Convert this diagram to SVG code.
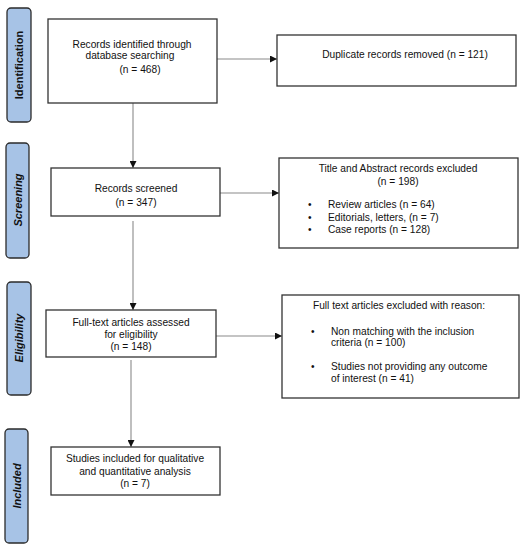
<svg xmlns="http://www.w3.org/2000/svg" width="525" height="550" viewBox="0 0 525 550">
<style>
.box{fill:#fff;stroke:#333;stroke-width:1.3}
.pill{fill:#a7c3e6;stroke:#2b2b2b;stroke-width:1.3}
.t{font-family:"Liberation Sans",Arial,sans-serif;font-size:10.2px;fill:#111}
.c{text-anchor:middle}
.p{font-family:"Liberation Sans",Arial,sans-serif;font-size:11px;font-weight:bold;fill:#111;text-anchor:middle}
.i{font-style:italic}
.ln{stroke:#8a8a8a;stroke-width:1.1;fill:none}
</style>
<defs>
<marker id="ah" viewBox="0 0 10 10" refX="10" refY="5" markerWidth="7" markerHeight="7" markerUnits="userSpaceOnUse" orient="auto">
<path d="M0,0 L10,5 L0,10 z" fill="#111"/>
</marker>
</defs>
<rect width="525" height="550" fill="#fff"/>
<g id="phase-identification">
<rect class="pill" x="7" y="8" width="24" height="114" rx="4"/>
<text class="p" transform="translate(23,65) rotate(-90)">Identification</text>
</g>
<g id="phase-screening">
<rect class="pill" x="6" y="143" width="23" height="115" rx="4"/>
<text class="p i" transform="translate(21.5,200) rotate(-90)">Screening</text>
</g>
<g id="phase-eligibility">
<rect class="pill" x="7" y="282" width="24" height="113" rx="4"/>
<text class="p i" transform="translate(23,338) rotate(-90)">Eligibility</text>
</g>
<g id="phase-included">
<rect class="pill" x="5" y="429" width="23" height="114" rx="4"/>
<text class="p i" transform="translate(20.5,486) rotate(-90)">Included</text>
</g>
<g id="connectors">
<line class="ln" x1="133" y1="103" x2="133" y2="168" marker-end="url(#ah)"/>
<line class="ln" x1="217" y1="59" x2="277" y2="59" marker-end="url(#ah)"/>
<line class="ln" x1="133" y1="221" x2="133" y2="310" marker-end="url(#ah)"/>
<line class="ln" x1="220" y1="193" x2="279" y2="193" marker-end="url(#ah)"/>
<line class="ln" x1="131" y1="360" x2="131" y2="447" marker-end="url(#ah)"/>
<line class="ln" x1="216" y1="336" x2="282" y2="336" marker-end="url(#ah)"/>
</g>
<g id="identified">
<rect class="box" x="48" y="19" width="169" height="84"/>
<text class="t c" x="132" y="47.5">Records identified through</text>
<text class="t c" x="130" y="59">database searching</text>
<text class="t c" x="140" y="73">(n = 468)</text>
</g>
<g id="duplicates">
<rect class="box" x="277" y="35" width="239" height="51"/>
<text class="t c" x="405" y="57.5">Duplicate records removed (n = 121)</text>
</g>
<g id="screened">
<rect class="box" x="51" y="168" width="169" height="48"/>
<text class="t c" x="136" y="192">Records screened</text>
<text class="t c" x="136" y="205.5">(n = 347)</text>
</g>
<g id="excluded-screening">
<rect class="box" x="279" y="158" width="239" height="90"/>
<text class="t c" x="398" y="172">Title and Abstract records excluded</text>
<text class="t c" x="398" y="184.5">(n = 198)</text>
<text class="t" x="308" y="208">•</text>
<text class="t" x="328" y="208">Review articles (n = 64)</text>
<text class="t" x="308" y="221">•</text>
<text class="t" x="328" y="221">Editorials, letters, (n = 7)</text>
<text class="t" x="308" y="233">•</text>
<text class="t" x="328" y="233">Case reports (n = 128)</text>
</g>
<g id="eligibility">
<rect class="box" x="46" y="310" width="170" height="47"/>
<text class="t c" x="131" y="326">Full-text articles assessed</text>
<text class="t c" x="131" y="338">for eligibility</text>
<text class="t c" x="131" y="350">(n = 148)</text>
</g>
<g id="excluded-fulltext">
<rect class="box" x="282" y="295" width="237" height="103"/>
<text class="t c" x="399" y="309">Full text articles excluded with reason:</text>
<text class="t" x="311" y="335">•</text>
<text class="t" x="331" y="335">Non matching with the inclusion</text>
<text class="t" x="331" y="346">criteria (n = 100)</text>
<text class="t" x="311" y="370">•</text>
<text class="t" x="331" y="370">Studies not providing any outcome</text>
<text class="t" x="331" y="382">of interest (n = 41)</text>
</g>
<g id="included">
<rect class="box" x="51" y="447" width="169" height="48"/>
<text class="t c" x="135" y="462">Studies included for qualitative</text>
<text class="t c" x="135" y="474.5">and quantitative analysis</text>
<text class="t c" x="135" y="486.5">(n = 7)</text>
</g>
</svg>
